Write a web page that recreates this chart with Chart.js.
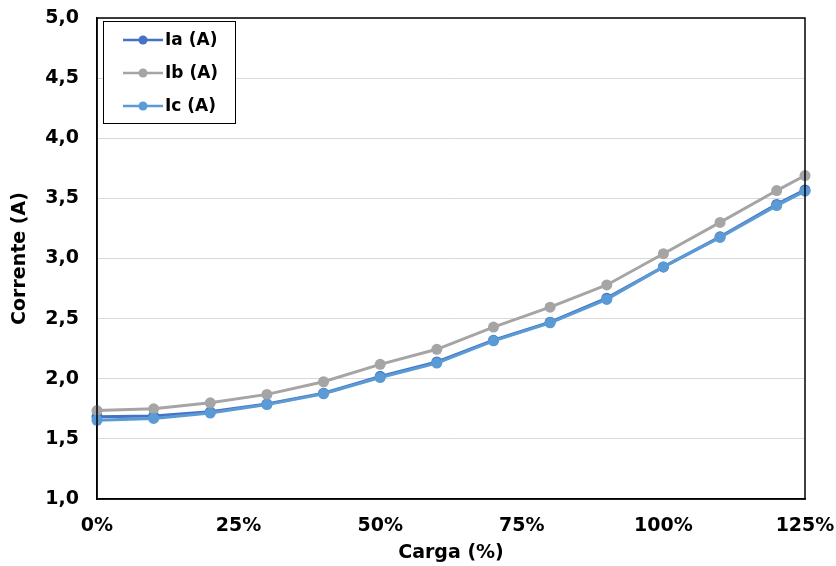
<!DOCTYPE html>
<html>
<head>
<meta charset="utf-8">
<script src="https://cdn.jsdelivr.net/npm/chart.js@4.4.1/dist/chart.umd.min.js"></script>
<style>
  html, body { margin: 0; padding: 0; background: #ffffff; }
  #wrap { width: 836px; height: 566px; }
</style>
</head>
<body>
<div id="wrap"><canvas id="c" width="836" height="566"></canvas></div>
<script>
// Load (%) at each measurement
const cargaPct = [0, 10, 20, 30, 40, 50, 60, 70, 80, 90, 100, 110, 120, 125];
// Phase currents (A)
const ia = [1.685, 1.69, 1.725, 1.79, 1.88, 2.02, 2.14, 2.32, 2.47, 2.67, 2.93, 3.18, 3.45, 3.57];
const ib = [1.735, 1.75, 1.80, 1.87, 1.975, 2.12, 2.245, 2.43, 2.595, 2.78, 3.04, 3.30, 3.565, 3.69];
const ic = [1.655, 1.67, 1.715, 1.785, 1.875, 2.01, 2.13, 2.315, 2.465, 2.66, 2.93, 3.175, 3.44, 3.56];
const seriesNames = ['Ia (A)', 'Ib (A)', 'Ic (A)'];
const seriesColors = ['#4472C4', '#A5A5A5', '#5B9BD5'];

const FONT = 'DejaVu Sans';

function toPoints(values) {
  return cargaPct.map((x, i) => ({ x: x, y: values[i] }));
}

// Black frame around the plot area plus an inset legend box
const frameAndLegend = {
  id: 'frameAndLegend',
  afterDraw(chart) {
    const ctx = chart.ctx;
    const a = chart.chartArea;
    ctx.save();
    ctx.strokeStyle = '#000000';
    ctx.lineWidth = 1.5;
    ctx.strokeRect(a.left, a.top, a.right - a.left, a.bottom - a.top);

    const bx = a.left + 6, by = a.top + 3, bw = 132, bh = 102;
    ctx.fillStyle = '#ffffff';
    ctx.fillRect(bx, by, bw, bh);
    ctx.lineWidth = 1;
    ctx.strokeRect(bx + 0.5, by + 0.5, bw, bh);

    ctx.font = 'bold 17px "' + FONT + '"';
    ctx.textBaseline = 'middle';
    ctx.textAlign = 'left';
    chart.data.datasets.forEach((ds, i) => {
      const yy = by + 19 + i * 33;
      const x0 = bx + 20, x1 = bx + 60;
      ctx.strokeStyle = ds.borderColor;
      ctx.lineWidth = 2.5;
      ctx.beginPath();
      ctx.moveTo(x0, yy);
      ctx.lineTo(x1, yy);
      ctx.stroke();
      ctx.fillStyle = ds.backgroundColor;
      ctx.beginPath();
      ctx.arc((x0 + x1) / 2, yy, 4.5, 0, Math.PI * 2);
      ctx.fill();
      ctx.fillStyle = '#000000';
      ctx.fillText(ds.label, x1 + 2, yy + 1);
    });
    ctx.restore();
  }
};

const datasets = [ia, ib, ic].map((vals, i) => ({
  label: seriesNames[i],
  data: toPoints(vals),
  borderColor: seriesColors[i],
  backgroundColor: seriesColors[i],
  pointBackgroundColor: seriesColors[i],
  pointBorderColor: seriesColors[i],
  borderWidth: 3,
  pointRadius: 5.5,
  pointBorderWidth: 0,
  tension: 0,
  clip: false,
  order: 3 - i
}));

new Chart(document.getElementById('c'), {
  type: 'line',
  data: { datasets: datasets },
  options: {
    responsive: false,
    animation: false,
    devicePixelRatio: 1,
    layout: { padding: { top: 18, right: 31, left: 0, bottom: 0 } },
    plugins: {
      legend: { display: false },
      tooltip: { enabled: false },
      title: { display: false }
    },
    scales: {
      x: {
        type: 'linear',
        min: 0,
        max: 125,
        afterFit(scale) {
          scale.height = 67;
          scale.paddingLeft = 0;
          scale.paddingRight = 0;
        },
        grid: { display: false, drawTicks: false },
        border: { display: true, color: '#000000', width: 1.5 },
        ticks: {
          stepSize: 25,
          padding: 16,
          color: '#000000',
          font: { family: FONT, size: 19, weight: 'bold' },
          callback: v => v + '%'
        },
        title: {
          display: true,
          text: 'Carga (%)',
          color: '#000000',
          font: { family: FONT, size: 19, weight: 'bold' },
          padding: { top: 0, bottom: 2 }
        }
      },
      y: {
        min: 1,
        max: 5,
        afterFit(scale) {
          scale.width = 97;
          scale.paddingTop = 0;
          scale.paddingBottom = 0;
        },
        grid: { color: '#D9D9D9', lineWidth: 1, drawTicks: false },
        border: { display: true, color: '#000000', width: 1.5 },
        ticks: {
          stepSize: 0.5,
          padding: 18,
          color: '#000000',
          font: { family: FONT, size: 19, weight: 'bold' },
          callback: v => v.toFixed(1).replace('.', ',')
        },
        title: {
          display: true,
          text: 'Corrente (A)',
          color: '#000000',
          font: { family: FONT, size: 19, weight: 'bold' },
          padding: { top: 9, bottom: 0 }
        }
      }
    }
  },
  plugins: [frameAndLegend]
});
</script>
</body>
</html>
